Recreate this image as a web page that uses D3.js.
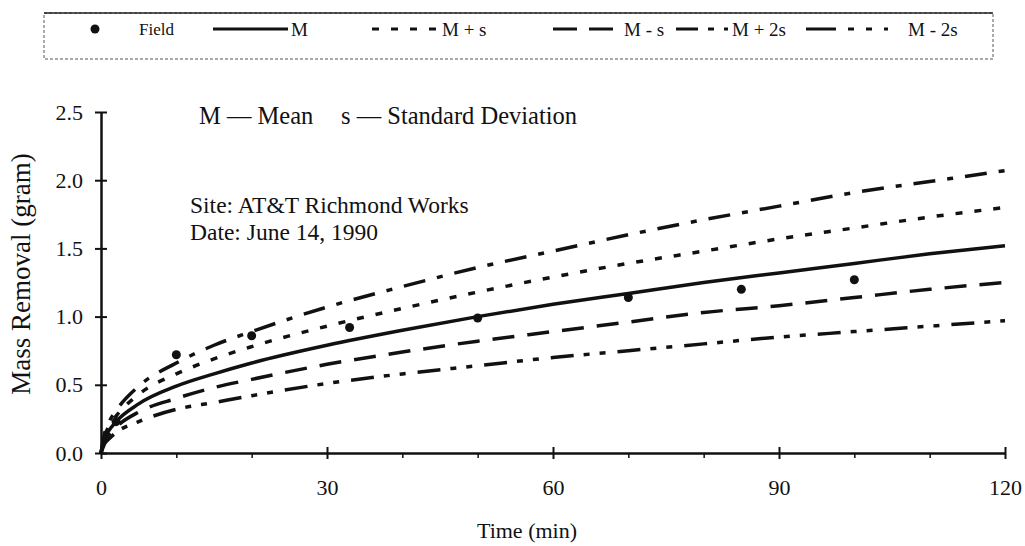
<!DOCTYPE html>
<html><head><meta charset="utf-8">
<script src="https://cdn.jsdelivr.net/npm/d3@7"></script>
<style>
body{margin:0;background:#fff}
svg{display:block;font-family:"Liberation Serif","Times New Roman",serif;fill:#111}
</style>
</head><body>
<svg id="c" width="1025" height="546"></svg>
<script>
// ---- data ----
const time    = [0, 0.5, 1, 2, 5, 10, 15, 20, 30, 40, 50, 60, 70, 80, 90, 100, 110, 120];
const mean    = [0, 0.11, 0.16, 0.23, 0.36, 0.49, 0.58, 0.66, 0.79, 0.90, 1.00, 1.09, 1.17, 1.25, 1.32, 1.39, 1.46, 1.52];
const plusS   = [0, 0.13, 0.19, 0.27, 0.43, 0.58, 0.69, 0.78, 0.93, 1.06, 1.18, 1.29, 1.39, 1.48, 1.57, 1.65, 1.73, 1.80];
const minusS  = [0, 0.09, 0.13, 0.19, 0.30, 0.40, 0.48, 0.54, 0.65, 0.74, 0.82, 0.89, 0.96, 1.03, 1.08, 1.14, 1.20, 1.25];
const plus2S  = [0, 0.15, 0.22, 0.31, 0.49, 0.66, 0.79, 0.89, 1.07, 1.22, 1.36, 1.48, 1.60, 1.71, 1.81, 1.91, 1.99, 2.07];
const minus2S = [0, 0.07, 0.10, 0.15, 0.23, 0.32, 0.37, 0.42, 0.51, 0.58, 0.64, 0.70, 0.75, 0.80, 0.85, 0.89, 0.93, 0.97];
const fieldTime = [2, 10, 20, 33, 50, 70, 85, 100];
const fieldMass = [0.23, 0.72, 0.86, 0.92, 0.99, 1.14, 1.20, 1.27];
const xTicks = [0, 30, 60, 90, 120];
const xMinorTicks = [10, 20, 40, 50, 70, 80, 100, 110];
const yTicks = [0, 0.5, 1.0, 1.5, 2.0, 2.5];
const seriesNames = ["M", "M + s", "M - s", "M + 2s", "M - 2s"];

// ---- styles ----
const dashes = {
  "M": null,
  "M + s": "7,12",
  "M - s": "22,13",
  "M + 2s": "22,12,6,12",
  "M - 2s": "23,10,6,10,6,12"
};
const seriesValues = [mean, plusS, minusS, plus2S, minus2S];

const svg = d3.select("#c");
const x = d3.scaleLinear().domain([0, 120]).range([101, 1005]);
const y = d3.scaleLinear().domain([0, 2.5]).range([453, 112]);

// ---- axes ----
const xAxis = svg.append("g").attr("transform", `translate(0,${y(0)})`)
  .call(d3.axisBottom(x).tickValues(xTicks).tickSize(6).tickSizeOuter(0));
xAxis.select(".domain").attr("stroke", "#111").attr("stroke-width", 2.5);
xAxis.selectAll(".tick line").attr("y1", -6).attr("y2", 6).attr("stroke", "#111").attr("stroke-width", 2);
xAxis.selectAll(".tick text").attr("y", 26).attr("dy", "0.71em")
  .style("font-family", "Liberation Serif").style("font-size", "22px").attr("fill", "#111");

const xMinor = svg.append("g").attr("transform", `translate(0,${y(0)})`)
  .call(d3.axisBottom(x).tickValues(xMinorTicks).tickSize(5).tickFormat(""));
xMinor.select(".domain").remove();
xMinor.selectAll(".tick line").attr("stroke", "#111").attr("stroke-width", 1.5);

const yAxis = svg.append("g").attr("transform", `translate(${x(0)},0)`)
  .call(d3.axisLeft(y).tickValues(yTicks).tickFormat(d3.format(".1f")).tickSize(6).tickSizeOuter(0));
yAxis.select(".domain").attr("stroke", "#111").attr("stroke-width", 2.5);
yAxis.selectAll(".tick line").attr("x1", 6).attr("x2", -6).attr("stroke", "#111").attr("stroke-width", 2);
yAxis.selectAll(".tick text").attr("x", -18)
  .style("font-family", "Liberation Serif").style("font-size", "22px").attr("fill", "#111");

// axis titles
svg.append("text").attr("x", 527).attr("y", 538).attr("text-anchor", "middle")
  .style("font-size", "22px").text("Time (min)");
svg.append("text").attr("transform", "translate(30,274) rotate(-90)").attr("text-anchor", "middle")
  .style("font-size", "27px").text("Mass Removal (gram)");

// ---- curves ----
const line = d3.line().x(d => x(d[0])).y(d => y(d[1])).curve(d3.curveMonotoneX);
seriesNames.forEach((name, i) => {
  const pts = time.map((t, j) => [t, seriesValues[i][j]]);
  svg.append("path").datum(pts).attr("d", line)
    .attr("fill", "none").attr("stroke", "#111")
    .attr("stroke-width", 3.5)
    .attr("stroke-linecap", "butt")
    .attr("stroke-dasharray", dashes[name]);
});

// field points
svg.append("g").selectAll("circle").data(fieldTime.map((t, i) => [t, fieldMass[i]]))
  .join("circle").attr("cx", d => x(d[0])).attr("cy", d => y(d[1])).attr("r", 4.5).attr("fill", "#111");

// ---- annotations ----
svg.append("text").attr("x", 199).attr("y", 124).style("font-size", "24.5px").text("M — Mean");
svg.append("text").attr("x", 341).attr("y", 124).style("font-size", "24.5px").text("s — Standard Deviation");
svg.append("text").attr("x", 190).attr("y", 213).style("font-size", "23.5px").text("Site: AT&T Richmond Works");
svg.append("text").attr("x", 190).attr("y", 240).style("font-size", "23.5px").text("Date: June 14, 1990");

// ---- legend ----
const lg = svg.append("g");
lg.append("rect").attr("x", 44).attr("y", 13).attr("width", 949).attr("height", 46)
  .attr("fill", "none").attr("stroke", "#555").attr("stroke-width", 1).attr("stroke-dasharray", "3,2");
lg.append("line").attr("x1", 44).attr("x2", 993).attr("y1", 13).attr("y2", 13).attr("stroke", "#222").attr("stroke-width", 1.5);
const ly = 29;
lg.append("circle").attr("cx", 95).attr("cy", ly).attr("r", 4.5).attr("fill", "#111");
lg.append("text").attr("x", 139).attr("y", 35).style("font-size", "17px").text("Field");
const legendItems = [
  {name: "M", x1: 213, x2: 288, tx: 291},
  {name: "M + s", x1: 372, x2: 436, tx: 442},
  {name: "M - s", x1: 553, x2: 614, tx: 624},
  {name: "M + 2s", x1: 676, x2: 728, tx: 732},
  {name: "M - 2s", x1: 806, x2: 888, tx: 908}
];
const legendDash = {"M": null, "M + s": "7,12", "M - s": "24,12", "M + 2s": "22,10,6,10,6,10", "M - 2s": "30,12,6,12,6,12"};
legendItems.forEach(it => {
  lg.append("line").attr("x1", it.x1).attr("x2", it.x2).attr("y1", ly).attr("y2", ly)
    .attr("stroke", "#111").attr("stroke-width", 3).attr("stroke-dasharray", legendDash[it.name]);
  lg.append("text").attr("x", it.tx).attr("y", 36).style("font-size", "19px").text(it.name);
});
</script>
</body></html>
